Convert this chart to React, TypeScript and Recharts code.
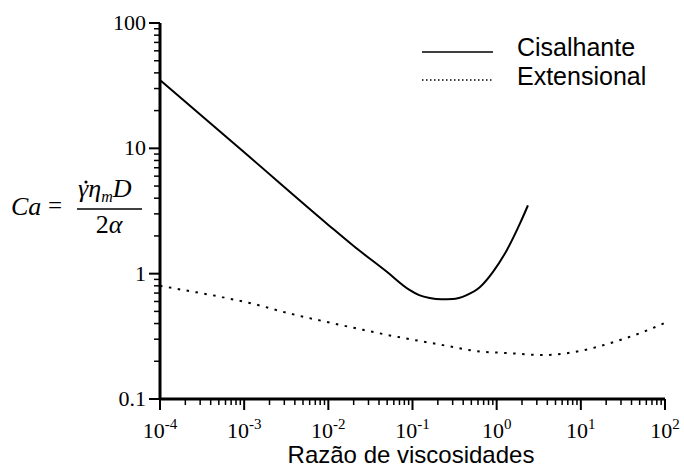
import React from 'react'
import { LineChart, Line, XAxis, YAxis, Customized } from 'recharts'

// curva de cisalhamento (linha cheia)
const shearX = [1e-4, 1e-3, 1e-2, 0.02, 0.05, 0.09, 0.12, 0.16, 0.22, 0.3, 0.44, 0.63, 0.9, 1.32, 1.9, 2.35]
const shearY = [35, 9.3, 2.45, 1.66, 1.03, 0.75, 0.675, 0.64, 0.625, 0.627, 0.675, 0.78, 1.03, 1.54, 2.53, 3.5]

// curva extensional (pontilhada)
const extX = [1e-4, 2.15e-4, 5.45e-4, 1.34e-3, 3.3e-3, 8.4e-3, 0.0207, 0.051, 0.107, 0.23, 0.58, 1.44, 3.5, 6.8, 13.9, 26.8, 54.5, 100]
const extY = [0.8, 0.73, 0.65, 0.57, 0.485, 0.42, 0.368, 0.324, 0.295, 0.269, 0.241, 0.232, 0.224, 0.232, 0.255, 0.29, 0.342, 0.405]

const xDecades = [1e-4, 1e-3, 1e-2, 1e-1, 1, 10, 100]
const xExpLabels = ['-4', '-3', '-2', '-1', '0', '1', '2']
const yDecades = [0.1, 1, 10, 100]
const yTickLabels = ['0.1', '1', '10', '100']
const legendNames = ['Cisalhante', 'Extensional']

const withMinors = (decades: number[]) => {
  const out: number[] = []
  decades.forEach((d, i) => {
    out.push(d)
    if (i < decades.length - 1) for (let m = 2; m <= 9; m++) out.push(d * m)
  })
  return out
}

const shearData = shearX.map((x, i) => ({ x, y: shearY[i] }))
const extData = extX.map((x, i) => ({ x, y: extY[i] }))

const majorIndex = (v: number, decades: number[]) =>
  decades.findIndex(d => Math.abs(Math.log10(v) - Math.log10(d)) < 1e-6)

const serif = 'Liberation Serif'
const sans = 'Liberation Sans'
const frame = { stroke: '#000', strokeWidth: 3 }

const XTick = (props: any) => {
  const { x, y, payload } = props
  const idx = majorIndex(payload.value, xDecades)
  if (idx < 0) return <line x1={x} y1={y} x2={x} y2={y + 6} stroke="#000" strokeWidth={1.5} />
  return (
    <g>
      <line x1={x} y1={y} x2={x} y2={y + 11} stroke="#000" strokeWidth={2} />
      <text x={x} y={y + 39} textAnchor="middle" fontFamily={serif} fontSize={22} fill="#000">
        <tspan>10</tspan>
        <tspan dy={-9} fontSize={15}>{xExpLabels[idx]}</tspan>
      </text>
    </g>
  )
}

const YTick = (props: any) => {
  const { x, y, payload } = props
  const idx = majorIndex(payload.value, yDecades)
  if (idx < 0) return <line x1={x} y1={y} x2={x - 6} y2={y} stroke="#000" strokeWidth={1.5} />
  return (
    <g>
      <line x1={x} y1={y} x2={x - 11} y2={y} stroke="#000" strokeWidth={2} />
      <text x={x - 14} y={y + 7} textAnchor="end" fontFamily={serif} fontSize={22} fill="#000">
        {yTickLabels[idx]}
      </text>
    </g>
  )
}

const Extras = () => (
  <g>
    {/* eixo y: Ca = γ̇ η_m D / 2α */}
    <g fontFamily={serif} fontStyle="italic" fill="#000">
      <text x={11} y={215} fontSize={26}>Ca</text>
      <text x={48} y={214} fontSize={25} fontStyle="normal">=</text>
      <text x={78} y={197} fontSize={26}>
        γη<tspan fontSize={16} dy={5}>m</tspan>
        <tspan dy={-5}>D</tspan>
      </text>
      <circle cx={86} cy={182} r={1.6} fill="#000" />
      <line x1={77} x2={142} y1={209} y2={209} stroke="#000" strokeWidth={1.5} />
      <text x={109} y={233} textAnchor="middle" fontSize={26}>
        <tspan fontStyle="normal">2</tspan>α
      </text>
    </g>
    <text x={411} y={463} textAnchor="middle" fontFamily={sans} fontSize={24} fill="#000">
      Razão de viscosidades
    </text>
    {legendNames.map((n, i) => (
      <g key={n}>
        <line
          x1={422}
          x2={493}
          y1={52 + i * 28}
          y2={52 + i * 28}
          stroke="#000"
          strokeWidth={1.5}
          strokeDasharray={i === 1 ? '1.5 2.5' : undefined}
        />
        <text x={517} y={56 + i * 29} fontFamily={sans} fontSize={25} fill="#000">{n}</text>
      </g>
    ))}
  </g>
)

export default function App() {
  return (
    <div style={{ position: 'absolute', left: 0, top: 0, background: '#fff' }}>
      <LineChart width={684} height={468} margin={{ top: 23, right: 19, left: 0, bottom: 0 }}>
        <XAxis
          dataKey="x"
          type="number"
          scale="log"
          domain={[1e-4, 100]}
          ticks={withMinors(xDecades)}
          interval={0}
          height={69}
          tickSize={0}
          tickMargin={0}
          axisLine={frame}
          tickLine={false}
          tick={<XTick />}
          allowDataOverflow
        />
        <XAxis
          xAxisId="top"
          orientation="top"
          type="number"
          scale="log"
          domain={[1e-4, 100]}
          height={0}
          tick={false}
          tickLine={false}
          axisLine={frame}
        />
        <YAxis
          dataKey="y"
          type="number"
          scale="log"
          domain={[0.1, 100]}
          ticks={withMinors(yDecades)}
          interval={0}
          width={160}
          tickSize={0}
          tickMargin={0}
          axisLine={frame}
          tickLine={false}
          tick={<YTick />}
          allowDataOverflow
        />
        <YAxis
          yAxisId="right"
          orientation="right"
          type="number"
          scale="log"
          domain={[0.1, 100]}
          width={0}
          tick={false}
          tickLine={false}
          axisLine={frame}
        />
        <Line
          data={shearData}
          dataKey="y"
          type="monotone"
          stroke="#000"
          strokeWidth={2}
          dot={false}
          isAnimationActive={false}
        />
        <Line
          data={extData}
          dataKey="y"
          type="monotone"
          stroke="#000"
          strokeWidth={2}
          strokeDasharray="2.5 6.5"
          dot={false}
          isAnimationActive={false}
        />
        <Customized component={Extras} />
      </LineChart>
    </div>
  )
}
